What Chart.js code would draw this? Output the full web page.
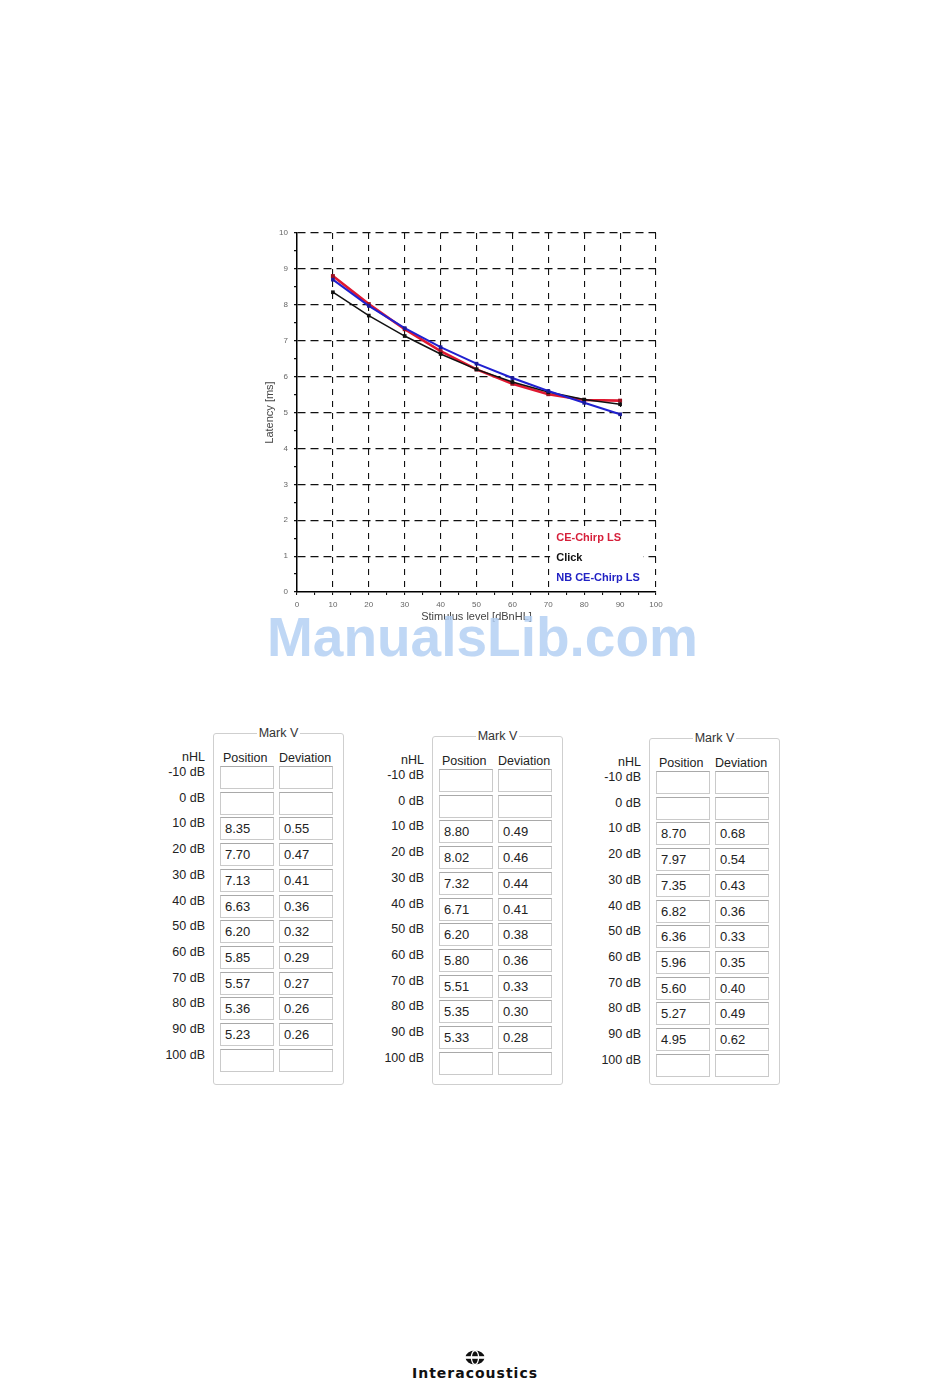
<!DOCTYPE html>
<html>
<head>
<meta charset="utf-8">
<script src="https://cdn.jsdelivr.net/npm/chart.js@4/dist/chart.umd.min.js"></script>
<style>
  html, body { margin: 0; padding: 0; background: #fff; }
  body { width: 950px; height: 1387px; position: relative; overflow: hidden; font-family: "Liberation Sans", Arial, sans-serif; }
  #chartWrap { position: absolute; left: 255px; top: 222px; width: 420px; height: 410px; }
  .watermark { position: absolute; left: 267px; top: 605px; font: bold 55px "Liberation Sans", Arial, sans-serif; color: rgba(180, 208, 243, 0.85); white-space: nowrap; }
  .box { position: absolute; width: 129px; border: 1px solid #cfcfcf; border-radius: 3px; }
  .box-title { position: absolute; top: -8px; left: 0; width: 100%; text-align: center; font-size: 12.5px; color: #333; line-height: 14px; }
  .box-title span { background: #fff; padding: 0 2px; }
  .lbl { position: absolute; font-size: 12.5px; color: #222; text-align: right; width: 60px; line-height: 14px; white-space: nowrap; }
  .hdr { position: absolute; font-size: 12.5px; color: #222; line-height: 14px; white-space: nowrap; }
  .cell { position: absolute; border: 1px solid #cacaca; border-top-color: #a9a9a9; font-size: 13px; color: #222; line-height: 22px; padding-left: 4px; box-sizing: border-box; width: 54px; height: 23px; }
  .logo { position: absolute; left: 400px; top: 1350px; width: 150px; text-align: center; }
  .logo svg { display: block; margin: 0 auto; }
  .logo .name { font: bold 14px "DejaVu Sans", sans-serif; color: #111; letter-spacing: 1px; line-height: 14px; margin-top: 1px; }
</style>
</head>
<body>
<div id="chartWrap"><canvas id="latencyChart" width="420" height="410"></canvas></div>
<div class="watermark">ManualsLib.com</div>
<div id="tables"></div>
<div class="logo">
  <svg width="20" height="15" viewBox="0 0 20 15"><ellipse cx="10" cy="7.5" rx="9.5" ry="7" fill="#111"/><rect x="0" y="6.2" width="20" height="2.6" fill="#fff"/><ellipse cx="10" cy="7.5" rx="3.6" ry="7" fill="none" stroke="#fff" stroke-width="1.3"/></svg>
  <div class="name">Interacoustics</div>
</div>
<script>
'use strict';

const levels = [10, 20, 30, 40, 50, 60, 70, 80, 90];
const clickPos = [8.35, 7.70, 7.13, 6.63, 6.20, 5.85, 5.57, 5.36, 5.23];
const clickDev = [0.55, 0.47, 0.41, 0.36, 0.32, 0.29, 0.27, 0.26, 0.26];
const chirpPos = [8.80, 8.02, 7.32, 6.71, 6.20, 5.80, 5.51, 5.35, 5.33];
const chirpDev = [0.49, 0.46, 0.44, 0.41, 0.38, 0.36, 0.33, 0.30, 0.28];
const nbPos = [8.70, 7.97, 7.35, 6.82, 6.36, 5.96, 5.60, 5.27, 4.95];
const nbDev = [0.68, 0.54, 0.43, 0.36, 0.33, 0.35, 0.40, 0.49, 0.62];

const rowLevels = [-10, 0, 10, 20, 30, 40, 50, 60, 70, 80, 90, 100];
const legendNames = ['CE-Chirp LS', 'Click', 'NB CE-Chirp LS'];
const legendColors = ['#d61f3a', '#111111', '#2222c4'];

function toPoints(vals) {
  return levels.map((lv, i) => ({ x: lv, y: vals[i] }));
}

// legend sits inside the plot, on a white patch that hides the grid
const inChartLegend = {
  id: 'inChartLegend',
  afterDatasetsDraw(chart) {
    const { ctx, chartArea } = chart;
    const w = chartArea.right - chartArea.left;
    ctx.save();
    ctx.fillStyle = '#fff';
    ctx.fillRect(chartArea.left + w * 0.705, chartArea.bottom - 66, w * 0.26, 64);
    ctx.font = 'bold 11px "Liberation Sans", Arial, sans-serif';
    ctx.textBaseline = 'middle';
    ctx.textAlign = 'left';
    const x = chartArea.left + w * 0.722;
    legendNames.forEach((name, i) => {
      ctx.fillStyle = legendColors[i];
      ctx.fillText(name, x, chartArea.bottom - 54 + i * 20);
    });
    ctx.restore();
  }
};

const tickFont = { family: '"Liberation Sans", Arial, sans-serif', size: 8 };
const titleFont = { family: '"Liberation Sans", Arial, sans-serif', size: 11 };

new Chart(document.getElementById('latencyChart'), {
  type: 'line',
  data: {
    datasets: [
      { label: 'NB CE-Chirp LS', data: toPoints(nbPos), borderColor: '#2020d0', backgroundColor: '#1a1a9a', borderWidth: 2, pointStyle: 'rect', pointRadius: 2.6, pointBorderWidth: 0, order: 0 },
      { label: 'Click', data: toPoints(clickPos), borderColor: '#111', backgroundColor: '#111', borderWidth: 1.5, pointStyle: 'rect', pointRadius: 2.6, pointBorderWidth: 0, order: 1 },
      { label: 'CE-Chirp LS', data: toPoints(chirpPos), borderColor: '#e01830', backgroundColor: '#9a1020', borderWidth: 2.6, pointStyle: 'rect', pointRadius: 2.8, pointBorderWidth: 0, order: 2 }
    ]
  },
  options: {
    responsive: false,
    animation: false,
    layout: { padding: { top: 11, right: 19, left: 0, bottom: 0 } },
    plugins: { legend: { display: false }, tooltip: { enabled: false } },
    scales: {
      x: {
        type: 'linear', min: 0, max: 100,
        afterFit: s => { s.height = 40; },
        ticks: { stepSize: 5, autoSkip: false, maxRotation: 0, padding: 5, color: '#666', font: tickFont,
          callback: v => (v % 10 === 0 ? String(v) : '') },
        grid: { color: c => (c.tick && c.tick.value % 10 === 0 && c.tick.value !== 0 ? '#111' : 'rgba(0,0,0,0)'),
          tickColor: '#111', tickLength: 3, lineWidth: 1.1 },
        border: { display: true, color: '#000', width: 1.5, dash: [6, 6] },
        title: { display: true, text: 'Stimulus level [dBnHL]', color: '#444', font: titleFont, padding: { top: 0, bottom: 8.4 } }
      },
      y: {
        min: 0, max: 10,
        afterFit: s => { s.width = 42; },
        ticks: { stepSize: 0.5, autoSkip: false, padding: 6, color: '#666', font: tickFont,
          callback: v => (Number.isInteger(v) ? String(v) : '') },
        grid: { color: c => (c.tick && Number.isInteger(c.tick.value) && c.tick.value !== 0 ? '#111' : 'rgba(0,0,0,0)'),
          tickColor: '#111', tickLength: 3, lineWidth: 1.2 },
        border: { display: true, color: '#000', width: 1.5, dash: [8, 5] },
        title: { display: true, text: 'Latency [ms]', color: '#444', font: titleFont, padding: { top: 8.4, bottom: 0 } }
      }
    }
  },
  plugins: [inChartLegend]
});

// Mark V tables: Click, CE-Chirp LS, NB CE-Chirp LS
const tableSets = [
  { left: 213, top: 733, pos: clickPos, dev: clickDev },
  { left: 432, top: 736, pos: chirpPos, dev: chirpDev },
  { left: 649, top: 738, pos: nbPos, dev: nbDev }
];

function place(cls, x, y, html) {
  const el = document.createElement('div');
  el.className = cls;
  el.style.left = x + 'px';
  el.style.top = y + 'px';
  el.innerHTML = html;
  document.getElementById('tables').appendChild(el);
  return el;
}

tableSets.forEach(t => {
  const box = place('box', t.left, t.top, '<div class="box-title"><span>Mark V</span></div>');
  box.style.height = (1083 - t.top) + 'px';
  place('lbl', t.left - 68, t.top + 17, 'nHL');
  place('hdr', t.left + 10, t.top + 18, 'Position');
  place('hdr', t.left + 66, t.top + 18, 'Deviation');
  rowLevels.forEach((lv, r) => {
    const y = t.top + 33 + r * 25.7;
    place('lbl', t.left - 68, y - 1, lv + ' dB');
    const idx = levels.indexOf(lv);
    const p = idx >= 0 ? t.pos[idx].toFixed(2) : '';
    const d = idx >= 0 ? t.dev[idx].toFixed(2) : '';
    place('cell', t.left + 7, y, p);
    place('cell', t.left + 66, y, d);
  });
});
</script>
</body>
</html>
